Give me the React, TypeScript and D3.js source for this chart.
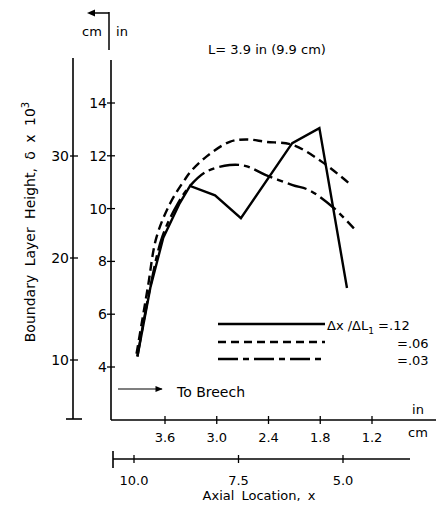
import React from "react";
import * as d3 from "d3";

// ---- data ----
const inTicks = [3.6, 3.0, 2.4, 1.8, 1.2];
const inTickLabels = ["3.6", "3.0", "2.4", "1.8", "1.2"];
const cmXTicks = [10.0, 7.5, 5.0];
const cmXTickLabels = ["10.0", "7.5", "5.0"];
const yInTicks = [4, 6, 8, 10, 12, 14];
const yInTickLabels = ["4", "6", "8", "10", "12", "14"];
const yCmTicks = [10, 20, 30];
const yCmTickLabels = ["10", "20", "30"];

// series: x = axial location (in), y = delta x 10^3 (in)
const solidX = [3.92, 3.77, 3.62, 3.43, 3.31, 3.02, 2.72, 2.125, 1.81, 1.49];
const solidY = [4.4, 7.0, 8.9, 10.2, 10.86, 10.5, 9.64, 12.48, 13.05, 6.99];
const dashedX = [3.93, 3.8, 3.7, 3.54, 3.37, 3.29, 3.12, 2.85, 2.66, 2.43, 2.12, 1.78, 1.47];
const dashedY = [4.5, 7.0, 8.9, 10.2, 11.1, 11.45, 11.97, 12.53, 12.62, 12.53, 12.41, 11.77, 10.97];
const dashDotX = [3.92, 3.77, 3.63, 3.45, 3.31, 3.12, 2.85, 2.66, 2.43, 2.12, 1.93, 1.66, 1.41];
const dashDotY = [4.4, 7.05, 8.95, 10.2, 10.86, 11.4, 11.65, 11.61, 11.27, 10.89, 10.7, 10.07, 9.25];

const legendLabels = ["Δx /ΔL", "=.06", "=.03"];

const FONT = "'DejaVu Sans', sans-serif";

export default function App() {
  const xIn = d3.scaleLinear().domain([3.6, 1.2]).range([165, 372]);
  const xCm = d3.scaleLinear().domain([10, 5]).range([134, 343]);
  const yIn = d3.scaleLinear().domain([4, 14]).range([367, 103]);
  const yCm = d3.scaleLinear().domain([10, 30]).range([360, 156]);

  const toPts = (xs: number[], ys: number[]) => xs.map((x, i) => [x, ys[i]] as [number, number]);
  const linear = d3.line<[number, number]>().x(d => xIn(d[0])).y(d => yIn(d[1])).curve(d3.curveLinear);
  const smooth = d3.line<[number, number]>().x(d => xIn(d[0])).y(d => yIn(d[1])).curve(d3.curveCatmullRom.alpha(0.5));

  const axInX = 111;
  const axCmX = 73;
  const axBottomY = 420;
  const axCmY = 459;

  return (
    <svg width={438} height={508} style={{ position: "absolute", left: 0, top: 0, background: "#fff" }}
      fontFamily={FONT}>
      <defs>
        <marker id="arrR" viewBox="0 0 10 10" refX="9" refY="5" markerWidth="8" markerHeight="6" orient="auto">
          <path d="M0,1 L10,5 L0,9 z" fill="#000" />
        </marker>
      </defs>
      {/* title */}
      <text x={267} y={54} fontSize={13} textAnchor="middle">L= 3.9 in (9.9 cm)</text>

      {/* top unit labels */}
      <text x={92} y={36} fontSize={13} textAnchor="middle">cm</text>
      <text x={122} y={36} fontSize={13} textAnchor="middle">in</text>
      <line x1={109} x2={109} y1={12} y2={50} stroke="#000" strokeWidth={1.5} />
      <line x1={109} x2={92} y1={13} y2={13} stroke="#000" strokeWidth={1.5} />
      <path d="M87,13 L95,9.5 L95,16.5 z" fill="#000" />

      {/* outer cm axis */}
      <line x1={axCmX} x2={axCmX} y1={58} y2={419} stroke="#000" strokeWidth={1.6} />
      <line x1={66} x2={82} y1={419} y2={419} stroke="#000" strokeWidth={1.6} />
      {yCmTicks.map((t, i) => (
        <g key={"yc" + i}>
          <line x1={axCmX - 3} x2={axCmX + 5} y1={yCm(t)} y2={yCm(t)} stroke="#000" strokeWidth={1.3} />
          <text x={axCmX - 4} y={yCm(t) + 5} fontSize={14} textAnchor="end">{yCmTickLabels[i]}</text>
        </g>
      ))}

      {/* inner in axis */}
      <line x1={axInX} x2={axInX} y1={60} y2={axBottomY} stroke="#000" strokeWidth={1.6} />
      {yInTicks.map((t, i) => (
        <g key={"yi" + i}>
          <line x1={axInX - 4} x2={axInX + 4} y1={yIn(t)} y2={yIn(t)} stroke="#000" strokeWidth={1.3} />
          <text x={axInX - 4} y={yIn(t) + 5} fontSize={14} textAnchor="end">{yInTickLabels[i]}</text>
        </g>
      ))}

      {/* y label */}
      <text transform="translate(35,222) rotate(-90)" fontSize={14} textAnchor="middle" wordSpacing={4}>
        Boundary Layer Height, δ x 10<tspan dy={-6} fontSize={10}>3</tspan>
      </text>

      {/* bottom in axis */}
      <line x1={axInX} x2={436} y1={axBottomY} y2={axBottomY} stroke="#000" strokeWidth={1.6} />
      {inTicks.map((t, i) => (
        <g key={"xi" + i}>
          <line x1={xIn(t)} x2={xIn(t)} y1={axBottomY - 4} y2={axBottomY + 4} stroke="#000" strokeWidth={1.3} />
          <text x={xIn(t)} y={442} fontSize={13} textAnchor="middle">{inTickLabels[i]}</text>
        </g>
      ))}
      <text x={418} y={414} fontSize={13} textAnchor="middle">in</text>
      <text x={418} y={437} fontSize={13} textAnchor="middle">cm</text>

      {/* cm x axis */}
      <line x1={113} x2={410} y1={axCmY} y2={axCmY} stroke="#000" strokeWidth={1.6} />
      <line x1={113} x2={113} y1={451} y2={468} stroke="#000" strokeWidth={1.6} />
      {cmXTicks.map((t, i) => (
        <g key={"xc" + i}>
          <line x1={xCm(t)} x2={xCm(t)} y1={axCmY - 4} y2={axCmY + 4} stroke="#000" strokeWidth={1.3} />
          <text x={xCm(t)} y={485} fontSize={13} textAnchor="middle">{cmXTickLabels[i]}</text>
        </g>
      ))}
      <text x={259} y={500} fontSize={13} textAnchor="middle" wordSpacing={3}>Axial Location, x</text>

      {/* to breech */}
      <line x1={118} x2={162} y1={389} y2={389} stroke="#000" strokeWidth={1.2} markerEnd="url(#arrR)" />
      <text x={177} y={397} fontSize={14}>To Breech</text>

      {/* curves */}
      <path d={linear(toPts(solidX, solidY)) || ""} fill="none" stroke="#000" strokeWidth={2.4} strokeLinejoin="miter" />
      <path d={smooth(toPts(dashedX, dashedY)) || ""} fill="none" stroke="#000" strokeWidth={2.4} strokeDasharray="9,5" />
      <path d={smooth(toPts(dashDotX, dashDotY)) || ""} fill="none" stroke="#000" strokeWidth={2.4} strokeDasharray="20,5,6,5" />

      {/* legend */}
      <line x1={218} x2={325} y1={324} y2={324} stroke="#000" strokeWidth={2.4} />
      <line x1={218} x2={325} y1={342} y2={342} stroke="#000" strokeWidth={2.4} strokeDasharray="8,5" />
      <line x1={218} x2={325} y1={359} y2={359} stroke="#000" strokeWidth={2.4} strokeDasharray="20,5,6,5" />
      <text x={327} y={330} fontSize={13}>
        {legendLabels[0]}<tspan dy={4} fontSize={9}>1</tspan><tspan dy={-4} fontSize={13}> =.12</tspan>
      </text>
      <text x={397} y={348} fontSize={13}>{legendLabels[1]}</text>
      <text x={397} y={365} fontSize={13}>{legendLabels[2]}</text>
    </svg>
  );
}
